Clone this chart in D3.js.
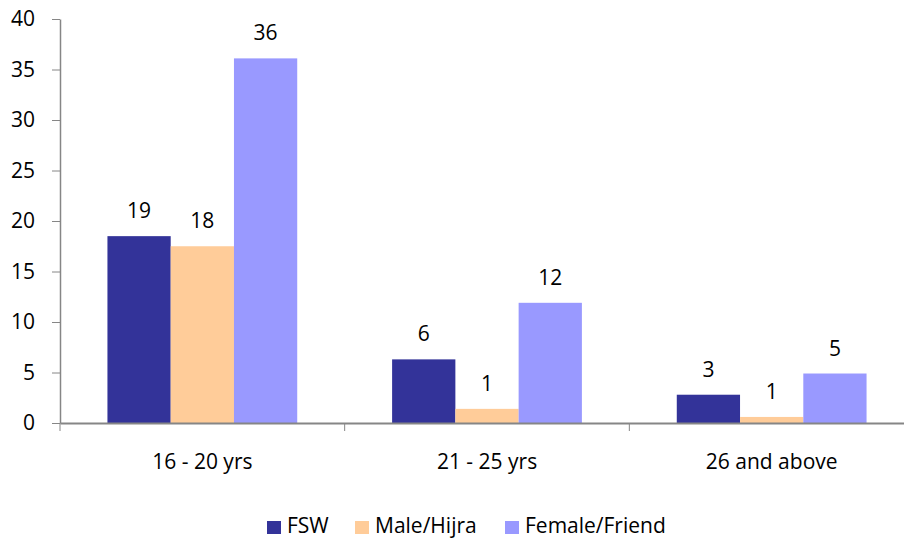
<!DOCTYPE html>
<html><head><meta charset="utf-8">
<script src="https://cdn.jsdelivr.net/npm/d3@7"></script>
<style>body{margin:0;background:#fff}svg{display:block}text{font-family:"Open Sans",sans-serif}</style>
</head><body><svg id="c" width="904" height="540"></svg>
<script>
const categories = ["16 - 20 yrs", "21 - 25 yrs", "26 and above"];
const seriesNames = ["FSW", "Male/Hijra", "Female/Friend"];
const fsw = [18.5, 6.3, 2.8];
const maleHijra = [17.5, 1.4, 0.6];
const femaleFriend = [36.1, 11.9, 4.9];
const yTicks = [0, 5, 10, 15, 20, 25, 30, 35, 40];
const colors = ["#333399", "#FFCC99", "#9999FF"];

const series = [fsw, maleHijra, femaleFriend];
const FS = 21;
const svg = d3.select("#c");
const m = {l: 60, r: 914, t: 19, b: 423};
const y = d3.scaleLinear().domain([0, 40]).range([m.b, m.t]);
const x0 = d3.scaleBand().domain(categories).range([m.l, m.r]).paddingInner(0).paddingOuter(0);
const x1 = d3.scaleBand().domain(seriesNames).range([0, x0.bandwidth()]).paddingInner(0).paddingOuter(0.75);

const gy = svg.append("g").attr("transform", `translate(${m.l},0)`)
  .call(d3.axisLeft(y).tickValues(yTicks).tickSize(8).tickPadding(17).tickSizeOuter(0));
gy.select(".domain").attr("stroke", "#868686").attr("stroke-width", 1.5);
gy.selectAll(".tick line").attr("stroke", "#868686");
gy.selectAll(".tick text").attr("font-size", FS).attr("fill", "#000").attr("font-family", "'Open Sans',sans-serif");

// bars
categories.forEach((c, ci) => {
  seriesNames.forEach((s, si) => {
    const v = series[si][ci];
    svg.append("rect")
      .attr("x", x0(c) + x1(s)).attr("width", x1.bandwidth())
      .attr("y", y(v)).attr("height", y(0) - y(v))
      .attr("fill", colors[si]);
    svg.append("text")
      .attr("x", x0(c) + x1(s) + x1.bandwidth() / 2)
      .attr("y", y(v) - 18)
      .attr("text-anchor", "middle").attr("font-size", FS).attr("fill", "#000")
      .text(Math.round(v));
  });
});

const gx = svg.append("g").attr("transform", `translate(0,${m.b})`)
  .call(d3.axisBottom(x0).tickSize(0).tickPadding(31));
gx.select(".domain").attr("stroke", "#868686").attr("stroke-width", 2);
gx.selectAll(".tick text").attr("font-size", FS).attr("fill", "#000").attr("font-family", "'Open Sans',sans-serif");
// category separator ticks
const sepTicks = [m.l].concat(categories.slice(1).map(c => x0(c)));
svg.selectAll(".sep").data(sepTicks).enter().append("line")
  .attr("x1", d => d).attr("x2", d => d).attr("y1", m.b).attr("y2", m.b + 8)
  .attr("stroke", "#868686");

// legend
const legX = [267, 355, 505];
const lg = svg.append("g");
seriesNames.forEach((s, i) => {
  lg.append("rect").attr("x", legX[i]).attr("y", 521).attr("width", 14).attr("height", 13).attr("fill", colors[i]);
  lg.append("text").attr("x", legX[i] + 20).attr("y", 533).attr("font-size", FS).attr("fill", "#000").text(s);
});
</script></body></html>
